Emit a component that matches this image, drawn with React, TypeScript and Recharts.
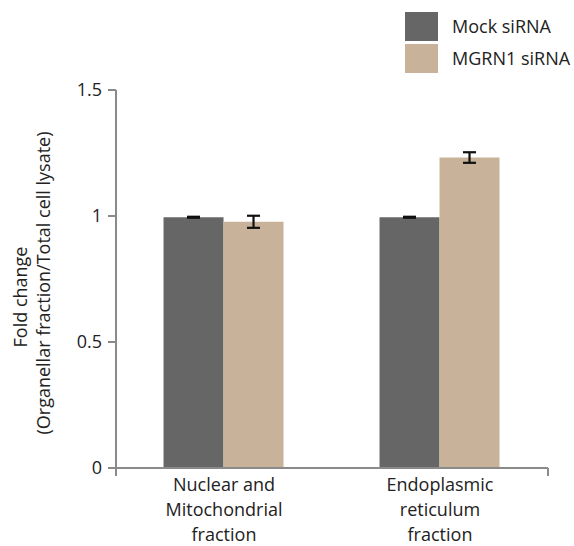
import { BarChart, Bar, XAxis, YAxis, ErrorBar } from "recharts"

const categories = ["Nuclear and\nMitochondrial\nfraction", "Endoplasmic\nreticulum\nfraction"]
const mockValues = [0.995, 0.995]
const mockErrors = [0.002, 0.002]
const mgrnValues = [0.977, 1.232]
const mgrnErrors = [0.024, 0.021]
const yTicks = [0, 0.5, 1, 1.5]
const edgeTicks = [0, 1, 2]
const seriesNames = ["Mock siRNA", "MGRN1 siRNA"]
const seriesColors = ["#666666", "#c8b39a"]

const data = categories.map((name, i) => ({
  name,
  mock: mockValues[i],
  mockErr: mockErrors[i],
  mgrn: mgrnValues[i],
  mgrnErr: mgrnErrors[i],
}))

const FONT = "'Open Sans', 'Liberation Sans', sans-serif"
const AXIS = "#8a8a8a"

function CategoryTick(props: any) {
  const { x, y, payload } = props
  const lines = String(payload.value).split("\n")
  return (
    <g>
      {lines.map((line, i) => (
        <text key={i} x={x} y={y + 7 + i * 25} textAnchor="middle" fontSize={18} fill="#222" fontFamily={FONT}>
          {line}
        </text>
      ))}
    </g>
  )
}

function NoTick() {
  return <g />
}

function YLabel() {
  return (
    <g fontFamily={FONT} fontSize={18} fill="#222">
      <text x={20} y={297} textAnchor="middle" dominantBaseline="central" transform="rotate(-90 20 297)">
        Fold change
      </text>
      <text x={43} y={283} textAnchor="middle" dominantBaseline="central" transform="rotate(-90 43 283)">
        (Organellar fraction/Total cell lysate)
      </text>
    </g>
  )
}

function LegendBox() {
  return (
    <div style={{ position: "absolute", left: 405, top: 10, fontFamily: FONT }}>
      {seriesNames.map((n, i) => (
        <div key={n} style={{ display: "flex", alignItems: "center", height: 32 }}>
          <div style={{ width: 33, height: 29, background: seriesColors[i], marginRight: 14 }} />
          <span style={{ fontSize: 18, color: "#222" }}>{n}</span>
        </div>
      ))}
    </div>
  )
}

export default function App() {
  return (
    <div style={{ position: "absolute", left: 0, top: 0, width: 574, height: 546, background: "#fff" }}>
      <BarChart
        width={574}
        height={546}
        data={data}
        margin={{ top: 90, right: 26, bottom: 0, left: 56 }}
        barCategoryGap="22%"
        barGap={0}
      >
        <XAxis
          xAxisId="a"
          type="number"
          domain={[0, 2]}
          ticks={edgeTicks}
          tick={<NoTick />}
          height={8}
          tickSize={8}
          stroke={AXIS}
          strokeWidth={2}
        />
        <XAxis
          xAxisId="b"
          dataKey="name"
          axisLine={false}
          tickLine={false}
          interval={0}
          height={70}
          tick={<CategoryTick />}
        />
        <YAxis
          domain={[0, 1.5]}
          ticks={yTicks}
          width={60}
          tickSize={8}
          tickMargin={6}
          stroke={AXIS}
          strokeWidth={2}
          tick={{ fontSize: 18, fill: "#222", fontFamily: FONT }}
          label={<YLabel />}
        />
        <Bar xAxisId="b" dataKey="mock" name={seriesNames[0]} fill={seriesColors[0]} isAnimationActive={false}>
          <ErrorBar dataKey="mockErr" width={6.5} stroke="#111" strokeWidth={2.2} />
        </Bar>
        <Bar xAxisId="b" dataKey="mgrn" name={seriesNames[1]} fill={seriesColors[1]} isAnimationActive={false}>
          <ErrorBar dataKey="mgrnErr" width={6.5} stroke="#111" strokeWidth={2.2} />
        </Bar>
      </BarChart>
      <LegendBox />
    </div>
  )
}
